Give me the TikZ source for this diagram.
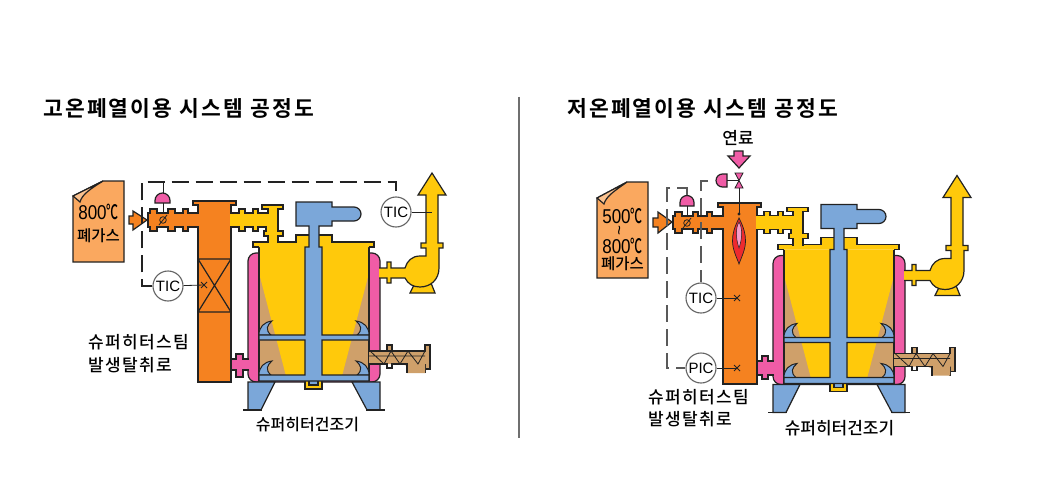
\documentclass[tikz,border=0pt]{standalone}
\usepackage{fontspec}
\usepackage{graphicx}
\setmainfont{Noto Sans CJK KR}
\newfontfamily\lat{Liberation Sans}
\newfontfamily\ttlfont[LetterSpace=10,BoldFont={Noto Sans CJK KR Bold}]{Noto Sans CJK KR Bold}
\newfontfamily\lblfont[LetterSpace=8]{Noto Sans CJK KR Medium}
\newfontfamily\medfont{Noto Sans CJK KR Medium}
\definecolor{cOr}{HTML}{F58220}
\definecolor{cDoc}{HTML}{FAA85F}
\definecolor{cYe}{HTML}{FFC90B}
\definecolor{cBl}{HTML}{7BA7D9}
\definecolor{cPi}{HTML}{F05CA6}
\definecolor{cTa}{HTML}{CFA06A}
\definecolor{cRe}{HTML}{EE2A2E}
\definecolor{cLn}{HTML}{222222}
\tikzset{
 ln/.style={draw=cLn,line width=1.2pt,line join=miter},
 thinln/.style={draw=cLn,line width=.8pt},
 dashln/.style={draw=cLn,line width=1.2pt,dash pattern=on 17pt off 7pt},
 instr/.style={circle,draw=cLn!70,line width=1.1pt,fill=white,minimum size=30pt,inner sep=0pt,font=\lat\fontsize{15}{15}\selectfont},
 ttl/.style={anchor=west,inner sep=0pt,font=\ttlfont\fontsize{21.5}{22}\selectfont},
 lbl/.style={inner sep=0pt,anchor=west,font=\lblfont\fontsize{17}{20}\selectfont},
 dlbl/.style={inner sep=0pt,font=\medfont\fontsize{16}{20}\selectfont},
 doctxt/.style={inner sep=0pt,font=\medfont\fontsize{15.5}{18}\selectfont},
 degtxt/.style={inner sep=0pt,font=\lat\fontsize{20}{20}\selectfont}
}
\newcommand{\Deg}[1]{\scalebox{.85}[1]{#1}\scalebox{.6}[1]{\medfont ℃}}
\newcommand{\mycross}[1]{\draw[thinln,line width=1pt] ([xshift=-3pt,yshift=3pt]#1)--([xshift=3pt,yshift=-3pt]#1) ([xshift=-3pt,yshift=-3pt]#1)--([xshift=3pt,yshift=3pt]#1);}
\newcommand{\Dryer}{%
 % jacket
 \draw[ln,fill=cPi,rounded corners=8pt] (248,382)--(248,253)--(380,253)--(380,382)--cycle;
 % inside
 \fill[cTa] (259,250) rectangle (369,381);
 \fill[cYe] (259,247)--(259,273)--(286,376)--(342,376)--(369,273)--(369,247)--cycle;
 \draw[ln] (259,247)--(259,381) (369,247)--(369,381);
 % feet
 \draw[ln,fill=cBl] (248,382)--(248,410)--(261,410)--(275,382)--cycle;
 \draw[ln,fill=cBl] (380,382)--(380,410)--(367,410)--(352,382)--cycle;
 \draw[ln] (243,410)--(262,410) (366,410)--(385,410);
 % hopper
 \draw[ln,fill=cYe] (259,247)--(253,247)--(253,242)--(296,242)--(296,235)--(332,235)--(332,242)--(374,242)--(374,247)--(369,247);
 % inlet riser and pipe
 \draw[ln,fill=cYe] (268,243)--(268,236)--(264,236)--(264,231)--(266,231)--(266,227)--(258,227)--(258,231)--(253,231)--(253,227)--(245,227)--(245,231)--(239,231)--(239,227)--(230,227)--(230,213)--(239,213)--(239,209)--(245,209)--(245,213)--(253,213)--(253,209)--(258,209)--(258,213)--(268,213)--(268,209)--(262,209)--(262,205)--(283,205)--(283,209)--(278,209)--(278,231)--(283,231)--(283,236)--(278,236)--(278,243);
 % crescents
 \foreach \yy in {335,375}{
  \draw[thinln,line width=1pt,fill=cBl] (259,\yy)..controls (259,\yy-8) and (264,\yy-13)..(272,\yy-14)..controls (267,\yy-10) and (265,\yy-5)..(271,\yy)--cycle;
  \draw[thinln,line width=1pt,fill=cBl] (369,\yy)..controls (369,\yy-8) and (364,\yy-13)..(356,\yy-14)..controls (361,\yy-10) and (363,\yy-5)..(357,\yy)--cycle;
 }
 % bottom cup
 \draw[ln,fill=cYe] (305,380)--(305,389)--(322,389)--(322,380)--cycle;
 \fill[cBl] (309,380) rectangle (318,385);
 \draw[ln] (309,381)--(309,385)--(318,385)--(318,381);
 % motor, shaft and scrapers
 \draw[ln,fill=cBl] (296,202)--(332,202)--(332,207)--(354,207)arc[start angle=90,end angle=-90,radius=7pt]--(332,221)--(332,226)--(319,226)--(319,247)--(322,247)--(322,335)--(369,335)--(369,340)--(322,340)--(322,375)--(369,375)--(369,381)--(259,381)--(259,375)--(305,375)--(305,340)--(259,340)--(259,335)--(305,335)--(305,247)--(309,247)--(309,226)--(296,226)--cycle;
 % screw conveyor
 \draw[ln,fill=cTa] (369,351)--(387,351)--(387,345)--(392,345)--(392,351)--(425,351)--(425,345)--(430,345)--(430,369)--(425,369)--(425,364)--(425,373);
 \fill[cTa] (369,351) rectangle (425,364) (407,364) rectangle (425,373);
 \draw[ln] (369,351)--(425,351) (369,364)--(387,364)--(387,368)--(392,368)--(392,364)--(407,364)--(407,373)
   (425,345)--(425,351);
 \draw[thinln] (369,356)--(425,356) (370,351)--(384,364)--(391,351)--(400,364)--(408,351)--(418,364)--(425,351);
 % outlet and fan
 \draw[ln,fill=cYe] (414,285)--(410,293)--(435,293)--(431,283);
 \draw[ln,fill=cYe] (379,268)--(387,268)--(387,262)--(391,262)--(391,268)--(405,268)..controls (407,261) and (412,256)..(420,256)--(426,256)--(426,248)--(421,248)--(421,243)--(426,243)--(426,195)--(418,195)--(432,173)--(446,195)--(438,195)--(438,243)--(443,243)--(443,248)--(439,248)--(439,268)..controls (439,280) and (430,287)..(420,287)..controls (413,287) and (408,284)..(405,278)--(391,278)--(391,283)--(387,283)--(387,278)--(379,278);
}
\begin{document}
\begin{tikzpicture}[x=1pt,y=-1pt]
\useasboundingbox (0,0) rectangle (1040,500);
\fill[white] (0,0) rectangle (1040,500);
% titles and divider
\node[ttl] (t1) at (43,108) {고온폐열이용 시스템 공정도};
\node[ttl] (t2) at (567,108) {저온폐열이용 시스템 공정도};
\coordinate (da) at (519,97); \coordinate (db) at (519,438);
\draw[draw=cLn!65,line width=1.4pt] (da)--(db);

%%% LEFT
\Dryer
\draw[ln,fill=cPi] (249,370)--(243,370)--(243,377)--(236,377)--(236,370)--(231,370)--(231,359)--(236,359)--(236,354)--(243,354)--(243,359)--(249,359);
\draw[ln,fill=cOr] (198,213)--(198,205)--(193,205)--(193,201)--(236,201)--(236,205)--(231,205)--(231,382)--(198,382)--(198,227)--(188,227)--(188,231)--(183,231)--(183,227)--(175,227)--(175,231)--(168,231)--(168,227)--(157,227)--(157,231)--(150,231)--(150,227)--(148,227)--(148,213)--(150,213)--(150,209)--(157,209)--(157,213)--(168,213)--(168,209)--(175,209)--(175,213)--(183,213)--(183,209)--(188,209)--(188,213)--cycle;
\fill[cYe] (230.2,213.7) rectangle (239,226.3);
\draw[ln] (198,259)--(231,259) (198,312)--(231,312) (198,259)--(231,312) (231,259)--(198,312);
% arrow and document
\draw[ln,fill=cOr] (129,216)--(133,216)--(133,211)--(147,220)--(133,230)--(133,224)--(129,224)--cycle;
\draw[ln,fill=cDoc] (73,196)--(103,181)--(124,181)--(124,262)--(73,262)--cycle;
\draw[ln,fill=cDoc!70!white] (73,196)--(80,202)..controls (82,194) and (92,188)..(103,181)--cycle;
\node[degtxt] (d1) at (98.5,212) {\Deg{800}};
\node[doctxt] (d1b) at (98.5,236) {폐가스};
% valve
\coordinate (v1) at (163,220);
\draw[ln,fill=cPi] (155,203)--(155,200.5)arc[start angle=180,end angle=0,radius=7.5pt]--(170,203)--cycle;
\draw[thinln] (163,203)--(163,213);
\draw[thinln] (v1) circle[radius=3.3pt] (159,225)--(167,215);
% instruments
\node[instr] (tic1) at (396,212) {TIC};
\node[instr] (tic2) at (168,286) {TIC};
\coordinate (x1) at (204,285);
\coordinate (o1) at (432,212);
\draw[thinln] (tic1)--(o1);
\draw[thinln] (tic2)--(x1);
\mycross{x1}
\coordinate (c1) at (142,182); \coordinate (c2) at (396,182); \coordinate (c3) at (142,286); \coordinate (c4) at (163,182);\coordinate (c5) at (163,193);
\draw[dashln] (tic2)--(c3)--(c1)--(c2)--(tic1);
\draw[thinln] (c4)--(c5);
\node[lbl] (l1a) at (88,342) {슈퍼히터스팀};
\node[lbl] (l1b) at (88,365) {발생탈취로};
\node[dlbl] (l2) at (307.5,425) {슈퍼히터건조기};

%%% RIGHT
\begin{scope}[shift={(525,2.5)}]
\Dryer
\end{scope}
\draw[ln,fill=cPi] (774,375)--(768,375)--(768,379)--(762,379)--(762,375)--(757,375)--(757,361)--(762,361)--(762,356)--(768,356)--(768,361)--(774,361);
\draw[ln,fill=cOr] (723,216)--(723,207)--(718,207)--(718,203)--(761,203)--(761,207)--(757,207)--(757,384)--(723,384)--(723,229)--(712,229)--(712,233)--(707,233)--(707,229)--(698,229)--(698,233)--(693,233)--(693,229)--(682,229)--(682,233)--(675,233)--(675,229)--(673,229)--(673,216)--(675,216)--(675,212)--(682,212)--(682,216)--(693,216)--(693,212)--(698,212)--(698,216)--(707,216)--(707,212)--(712,212)--(712,216)--cycle;
\fill[cYe] (756.2,216.2) rectangle (764,228.8);
% flame
\draw[line width=.7pt,draw=cLn,fill=cRe] (739,218)..controls (734,228) and (732.5,234)..(732.5,241)..controls (732.5,250) and (737,258)..(739,264)..controls (741,258) and (745.5,250)..(745.5,241)..controls (745.5,234) and (744,228)..(739,218)--cycle;
\draw[line width=.5pt,draw=cLn,fill=cPi!60!white] (739,222)..controls (735.5,228) and (735.5,238)..(739,248)..controls (742.5,238) and (742.5,228)..(739,222)--cycle;
% fuel
\draw[ln,fill=cPi] (734,151)--(743,151)--(743,156)--(750,156)--(739,168)--(728,156)--(734,156)--cycle;
\draw[thinln,fill=cPi] (735,173)--(743,173)--(735,188)--(743,188)--cycle;
\draw[ln,fill=cPi] (727,174)--(722.5,174)arc[start angle=90,end angle=270,radius=6.5pt]--(727,187)--cycle;
\coordinate (vf) at (739,180.5);
\draw[thinln] (727,180.5)--(vf);
\coordinate (vg) at (739,188); \coordinate (vh) at (739,214);
\draw[thinln] (vg)--(vh);
\fill[cLn] (vh) circle[radius=1.6pt];
\node[dlbl,font=\medfont\fontsize{17}{18}\selectfont] (fu) at (738,138) {연료};
% arrow and document
\draw[ln,fill=cOr] (653,218)--(658,218)--(658,212)--(672,222)--(658,233)--(658,227)--(653,227)--cycle;
\draw[ln,fill=cDoc] (597,198)--(627,182)--(648,182)--(648,278)--(597,278)--cycle;
\draw[ln,fill=cDoc!70!white] (597,198)--(604,204)..controls (606,196) and (616,190)..(627,182)--cycle;
\node[degtxt] (d2a) at (622.5,216) {\Deg{500}};
\node[inner sep=0pt,font=\lat\fontsize{17}{17}\selectfont] (d2t) at (621.5,231) {\rotatebox{90}{\char"7E}};
\node[degtxt] (d2b) at (622.5,246) {\Deg{800}};
\node[doctxt] (d2c) at (622.5,264) {폐가스};
% valve
\coordinate (v2) at (687,223);
\draw[ln,fill=cPi] (680,206)--(680,202.5)arc[start angle=180,end angle=0,radius=7pt]--(694,206)--cycle;
\draw[thinln] (687,206)--(687,216);
\draw[thinln] (v2) circle[radius=3.3pt] (683,228)--(691,218);
% instruments
\node[instr] (tic3) at (701,298) {TIC};
\node[instr] (pic) at (701,368) {PIC};
\coordinate (x3) at (737,298); \coordinate (x4) at (737,368);
\draw[thinln] (tic3)--(x3); \draw[thinln] (pic)--(x4);
\mycross{x3}\mycross{x4}
\coordinate (e1) at (708,181); \coordinate (e2) at (701,181);
\draw[dashln,draw=cLn!75] (e1)--(e2)--(tic3);
\coordinate (f1) at (687,195); \coordinate (f2) at (687,188); \coordinate (f3) at (667,188); \coordinate (f4) at (667,368);
\draw[dashln,draw=cLn!75] (f1)--(f2)--(f3)--(f4)--(pic);
\node[lbl] (l3a) at (648,397) {슈퍼히터스팀};
\node[lbl] (l3b) at (648,419) {발생탈취로};
\node[dlbl,font=\medfont\fontsize{17}{18}\selectfont] (l4) at (839.5,428) {슈퍼히터건조기};
\end{tikzpicture}
\end{document}
